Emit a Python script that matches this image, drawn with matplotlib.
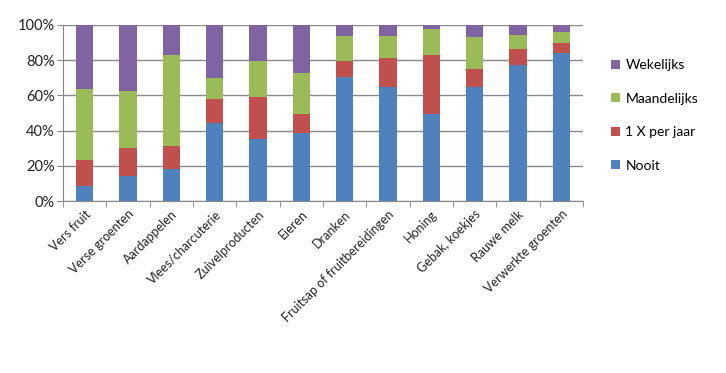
import numpy as np
import matplotlib
matplotlib.use("Agg")
import matplotlib.pyplot as plt

plt.rcParams['font.family'] = ['Lato', 'DejaVu Sans']

categories = ["Vers fruit", "Verse groenten", "Aardappelen", "Vlees/charcuterie",
              "Zuivelproducten", "Eieren", "Dranken", "Fruitsap of fruitbereidingen",
              "Honing", "Gebak, koekjes", "Rauwe melk", "Verwerkte groenten"]

nooit = [8.6, 14.3, 18.1, 44.4, 35.2, 38.7, 70.3, 65.0, 49.7, 65.0, 77.5, 84.0]
per_jaar = [14.6, 16.0, 13.3, 13.7, 23.7, 11.0, 9.5, 16.0, 33.5, 9.9, 8.8, 5.7]
maandelijks = [40.6, 32.4, 51.5, 12.0, 20.5, 22.9, 13.7, 12.5, 14.5, 18.2, 8.0, 6.3]
wekelijks = [100 - a - b - c for a, b, c in zip(nooit, per_jaar, maandelijks)]

series = [("Nooit", nooit, "#4F81BD"),
          ("1 X per jaar", per_jaar, "#C0504D"),
          ("Maandelijks", maandelijks, "#9BBB59"),
          ("Wekelijks", wekelijks, "#8064A2")]

fig = plt.figure(figsize=(7.26, 3.73), dpi=100)
ax = fig.add_axes([0.0868, 0.461, 0.716, 0.472])

x = np.arange(len(categories))
bottom = np.zeros(len(categories))
handles = []
for name, vals, col in series:
    h = ax.bar(x, vals, 0.4, bottom=bottom, color=col, label=name, zorder=3)
    bottom += np.array(vals)
    handles.append(h)

ax.set_xlim(-0.5, len(categories) - 0.5)
ax.set_ylim(0, 100)
ax.set_yticks(range(0, 101, 20))
ax.set_yticklabels([f"{v}%" for v in range(0, 101, 20)], fontsize=10.5, color="#222222")
ax.yaxis.grid(True, color="#888888", linewidth=1.0, zorder=0)

ax.set_xticks(x)
ax.set_xticklabels(categories, rotation=45, ha="right", rotation_mode="anchor",
                   fontsize=9, color="#222222")
ax.tick_params(axis="x", length=0, pad=5)
ax.set_xticks(np.arange(-0.5, len(categories), 1), minor=True)
ax.tick_params(axis="x", which="minor", length=4, color="#888888")
ax.tick_params(axis="y", length=4, color="#888888", pad=2)

for s in ["top", "right"]:
    ax.spines[s].set_visible(False)
for s in ["left", "bottom"]:
    ax.spines[s].set_color("#888888")

leg = fig.legend(handles[::-1], [s[0] for s in series][::-1],
                 loc="upper left", bbox_to_anchor=(0.825, 0.875),
                 frameon=False, fontsize=10, handlelength=0.6, handleheight=0.6,
                 handletextpad=0.4, labelspacing=1.55)

fig.savefig("out.png", dpi=100)
